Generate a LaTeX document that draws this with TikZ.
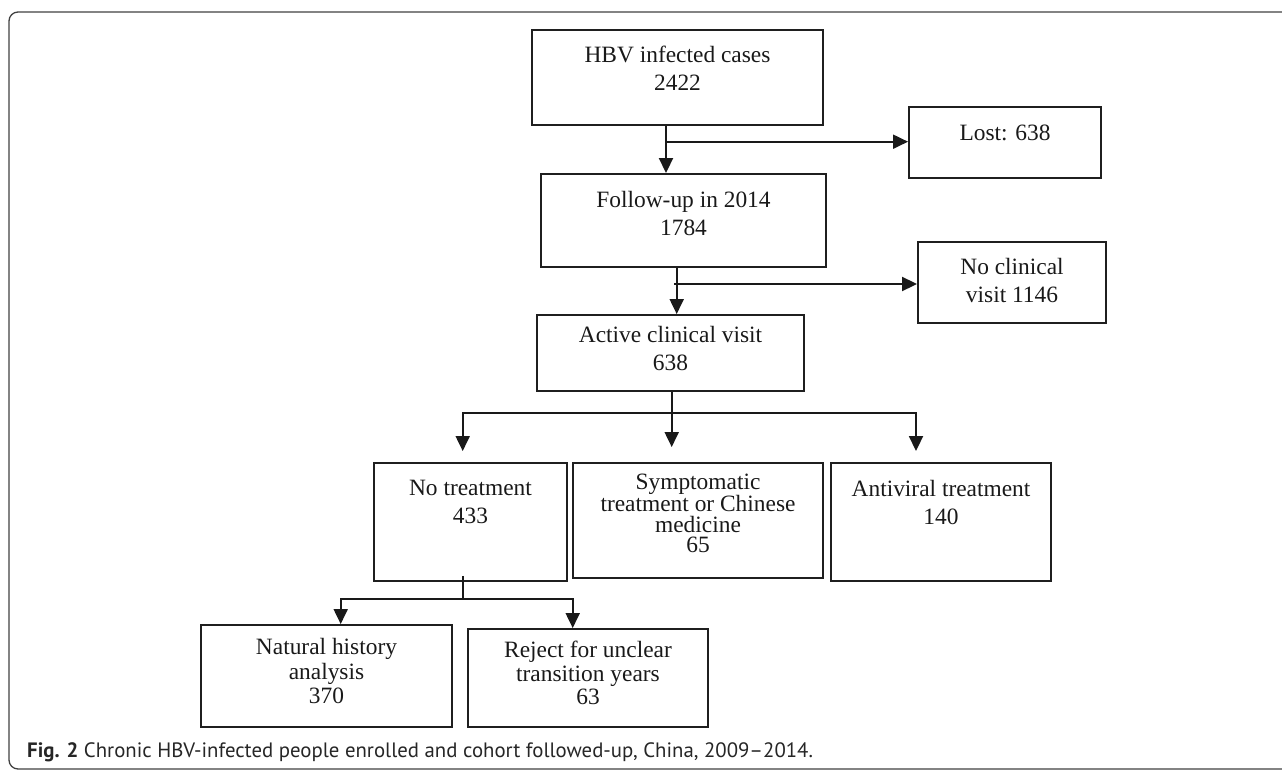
\documentclass[tikz,border=0pt]{standalone}
\usepackage{fontspec}
\setmainfont{Liberation Serif}
\newfontfamily\capfont{PT Sans}
\usetikzlibrary{arrows.meta,calc}
\begin{document}
\begin{tikzpicture}[x=1pt,y=-1pt,
  boxnode/.style={draw=black!88, line width=1.9pt, inner sep=0pt, rectangle},
  txt/.style={align=center, font=\fontsize{23.4}{28}\selectfont, text=black!90, inner sep=0pt},
  conn/.style={line width=1.9pt, draw=black!90},
  arr/.style={conn, -{Triangle[width=14pt,length=15pt]}}
]
\useasboundingbox (0,0) rectangle (1282,770);
% frame
\draw[line width=1.3pt, draw=black!75, rounded corners=9pt] (1300,12) -- (9,12) -- (9,769) -- (1300,769);

% boxes
\node[boxnode, minimum width=291pt, minimum height=95pt] (hbv) at (677.5,77.5) {};
\node[boxnode, minimum width=192pt, minimum height=71pt] (lost) at (1005,142.5) {};
\node[boxnode, minimum width=285pt, minimum height=93pt] (fu) at (683.5,220.5) {};
\node[boxnode, minimum width=188pt, minimum height=81pt] (noc) at (1012,282.5) {};
\node[boxnode, minimum width=267pt, minimum height=76pt] (act) at (670.5,353) {};
\node[boxnode, minimum width=193pt, minimum height=118pt] (notr) at (470.5,522) {};
\node[boxnode, minimum width=250pt, minimum height=115pt] (sym) at (698,520.5) {};
\node[boxnode, minimum width=220pt, minimum height=118pt] (anti) at (941,522) {};
\node[boxnode, minimum width=251pt, minimum height=102pt] (nat) at (326.5,676) {};
\node[boxnode, minimum width=240pt, minimum height=98pt] (rej) at (588,678) {};

% texts
\node[txt] (hbv-t) at (677.5,68) {HBV infected cases\\2422};
\node[txt] (lost-t) at (1005,133) {Lost: 638};
\node[txt] (fu-t) at (683.5,213) {Follow-up in 2014\\1784};
\node[txt] (noc-t) at (1012,280) {No clinical\\visit 1146};
\node[txt] (act-t) at (670.5,348) {Active clinical visit\\638};
\node[txt] (notr-t) at (470.5,501.5) {No treatment\\433};
\node[txt, font=\fontsize{23.4}{20.3}\selectfont] (sym-t) at (698,513.5) {Symptomatic\\treatment or Chinese\\medicine\\65};
\node[txt] (anti-t) at (941,502) {Antiviral treatment\\140};
\node[txt, font=\fontsize{23.4}{24.6}\selectfont] (nat-t) at (326.5,671) {Natural history\\analysis\\370};
\node[txt, font=\fontsize{23.4}{23.3}\selectfont] (rej-t) at (588,673) {Reject for unclear\\transition years\\63};

% connectors
\coordinate (j1) at (666,141.7);
\draw[arr] (j1 |- hbv.south) -- (j1 |- fu.north);
\draw[arr] (j1) -- (j1 -| lost.west);

\coordinate (j2) at (676.7,284);
\draw[arr] (j2 |- fu.south) -- (j2 |- act.north);
\draw[arr] ($(j2)+(-2.5,0)$) -- (j2 -| noc.west);

\coordinate (b1) at (671.7,412.7);
\coordinate (bl) at (462.7,412.7);
\coordinate (br) at (916,412.7);
\draw[arr] (b1 |- act.south) -- ($(b1 |- sym.north)+(0,-15)$);
\draw[conn, line cap=rect] (bl) -- (br);
\draw[arr] (bl) -- ($(bl |- notr.north)+(0,-11)$);
\draw[arr] (br) -- ($(br |- anti.north)+(0,-11)$);

\coordinate (b2) at (463,599);
\coordinate (b2l) at (340.7,599);
\coordinate (b2r) at (572.7,599);
\draw[conn] ($(b2 |- notr.south)+(0,-6)$) -- (b2);
\draw[conn, line cap=rect] (b2l) -- (b2r);
\draw[arr] (b2l) -- (b2l |- nat.north);
\draw[arr] (b2r) -- (b2r |- rej.north);

% caption
\node[anchor=base west, font=\capfont\fontsize{20.8}{25}\selectfont, text=black!85, inner sep=0pt] (cap) at (27,757.5) {\textbf{Fig. 2} Chronic HBV-infected people enrolled and cohort followed-up, China, 2009–2014.};
\end{tikzpicture}
\end{document}
